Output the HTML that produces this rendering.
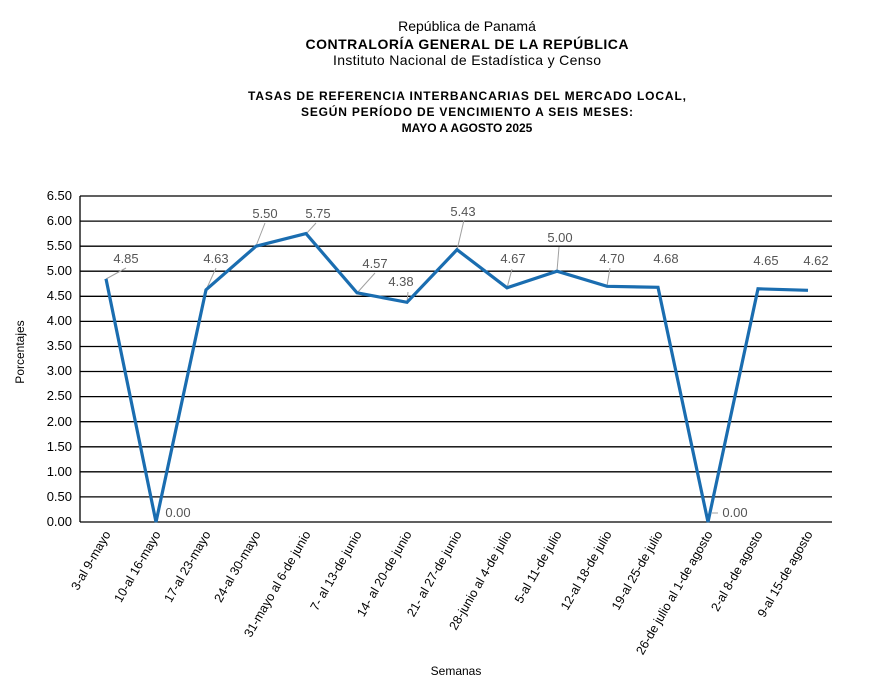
<!DOCTYPE html>
<html><head><meta charset="utf-8"><style>
html,body{margin:0;padding:0;background:#fff;}
svg{display:block;font-family:"Liberation Sans",Arial,sans-serif;}
</style></head><body>
<svg width="879" height="685" viewBox="0 0 879 685" xmlns="http://www.w3.org/2000/svg">
<g text-anchor="middle" fill="#000">
<text x="467" y="31" font-size="14">República de Panamá</text>
<text x="467" y="49" font-size="14" font-weight="bold" textLength="323" lengthAdjust="spacing">CONTRALORÍA GENERAL DE LA REPÚBLICA</text>
<text x="467" y="65" font-size="14" textLength="268" lengthAdjust="spacing">Instituto Nacional de Estadística y Censo</text>
<text x="467" y="100" font-size="12" font-weight="bold" textLength="438" lengthAdjust="spacing">TASAS DE REFERENCIA  INTERBANCARIAS  DEL MERCADO LOCAL,</text>
<text x="467" y="116" font-size="12" font-weight="bold" textLength="332" lengthAdjust="spacing">SEGÚN PERÍODO DE VENCIMIENTO  A SEIS MESES:</text>
<text x="467" y="132" font-size="12" font-weight="bold">MAYO A AGOSTO 2025</text>
</g>
<g stroke="#000" stroke-width="1.3">
<line x1="80" y1="196" x2="832" y2="196"/><line x1="80" y1="221.1" x2="832" y2="221.1"/>
<line x1="80" y1="246.2" x2="832" y2="246.2"/><line x1="80" y1="271.2" x2="832" y2="271.2"/>
<line x1="80" y1="296.3" x2="832" y2="296.3"/><line x1="80" y1="321.4" x2="832" y2="321.4"/>
<line x1="80" y1="346.5" x2="832" y2="346.5"/><line x1="80" y1="371.5" x2="832" y2="371.5"/>
<line x1="80" y1="396.6" x2="832" y2="396.6"/><line x1="80" y1="421.7" x2="832" y2="421.7"/>
<line x1="80" y1="446.8" x2="832" y2="446.8"/><line x1="80" y1="471.8" x2="832" y2="471.8"/>
<line x1="80" y1="496.9" x2="832" y2="496.9"/><line x1="80" y1="522" x2="832" y2="522"/>
<line x1="80" y1="196" x2="80" y2="522"/>
</g>
<g font-size="13" text-anchor="end" fill="#000">
<text x="72" y="200">6.50</text><text x="72" y="225">6.00</text><text x="72" y="250">5.50</text>
<text x="72" y="275">5.00</text><text x="72" y="300">4.50</text><text x="72" y="325">4.00</text>
<text x="72" y="350">3.50</text><text x="72" y="375">3.00</text><text x="72" y="400">2.50</text>
<text x="72" y="426">2.00</text><text x="72" y="451">1.50</text><text x="72" y="476">1.00</text>
<text x="72" y="501">0.50</text><text x="72" y="526">0.00</text>
</g>
<text transform="translate(24,352) rotate(-90)" font-size="12" text-anchor="middle">Porcentajes</text>
<text x="456" y="675" font-size="12" text-anchor="middle">Semanas</text>
<g stroke="#a0a0a0" stroke-width="1">
<line x1="106" y1="279" x2="126" y2="268"/>
<line x1="206" y1="290" x2="216" y2="268"/>
<line x1="256" y1="246" x2="265" y2="223"/>
<line x1="306" y1="234" x2="316" y2="223"/>
<line x1="357" y1="293" x2="375" y2="273"/>
<line x1="407" y1="302" x2="408" y2="292"/>
<line x1="457" y1="250" x2="464" y2="220"/>
<line x1="507" y1="288" x2="512" y2="269"/>
<line x1="557" y1="271" x2="559" y2="247"/>
<line x1="607" y1="286" x2="610" y2="268"/>
<line x1="712" y1="513" x2="718" y2="513"/>
</g>
<polyline fill="none" stroke="#1a6db0" stroke-width="3.2" stroke-linejoin="miter"
points="106,278.8 156,522 206,289.8 256,246.2 306,233.6 357,292.8 407,302.3 457,249.7 507,287.8 557,271.2 607,286.3 658,287.3 708,522 758,288.8 808,290.3"/>
<g font-size="13" fill="#555" text-anchor="middle">
<text x="126" y="263">4.85</text>
<text x="178" y="517">0.00</text>
<text x="216" y="263">4.63</text>
<text x="265" y="218">5.50</text>
<text x="318" y="218">5.75</text>
<text x="375" y="268">4.57</text>
<text x="401" y="286">4.38</text>
<text x="463" y="216">5.43</text>
<text x="513" y="263">4.67</text>
<text x="560" y="242">5.00</text>
<text x="612" y="263">4.70</text>
<text x="666" y="263">4.68</text>
<text x="735" y="517">0.00</text>
<text x="766" y="265">4.65</text>
<text x="816" y="265">4.62</text>
</g>
<g font-size="12.5" text-anchor="end" fill="#000">
<text transform="translate(111,534) rotate(-60)">3-al 9-mayo</text>
<text transform="translate(161,534) rotate(-60)">10-al 16-mayo</text>
<text transform="translate(211,534) rotate(-60)">17-al 23-mayo</text>
<text transform="translate(261,534) rotate(-60)">24-al 30-mayo</text>
<text transform="translate(311,534) rotate(-60)">31-mayo al 6-de junio</text>
<text transform="translate(362,534) rotate(-60)">7- al 13-de junio</text>
<text transform="translate(412,534) rotate(-60)">14- al 20-de junio</text>
<text transform="translate(462,534) rotate(-60)">21- al 27-de junio</text>
<text transform="translate(512,534) rotate(-60)">28-junio al 4-de julio</text>
<text transform="translate(562,534) rotate(-60)">5-al 11-de julio</text>
<text transform="translate(612,534) rotate(-60)">12-al 18-de julio</text>
<text transform="translate(663,534) rotate(-60)">19-al 25-de julio</text>
<text transform="translate(713,534) rotate(-60)">26-de julio al 1-de agosto</text>
<text transform="translate(763,534) rotate(-60)">2-al 8-de agosto</text>
<text transform="translate(813,534) rotate(-60)">9-al 15-de agosto</text>
</g>
</svg>
</body></html>
